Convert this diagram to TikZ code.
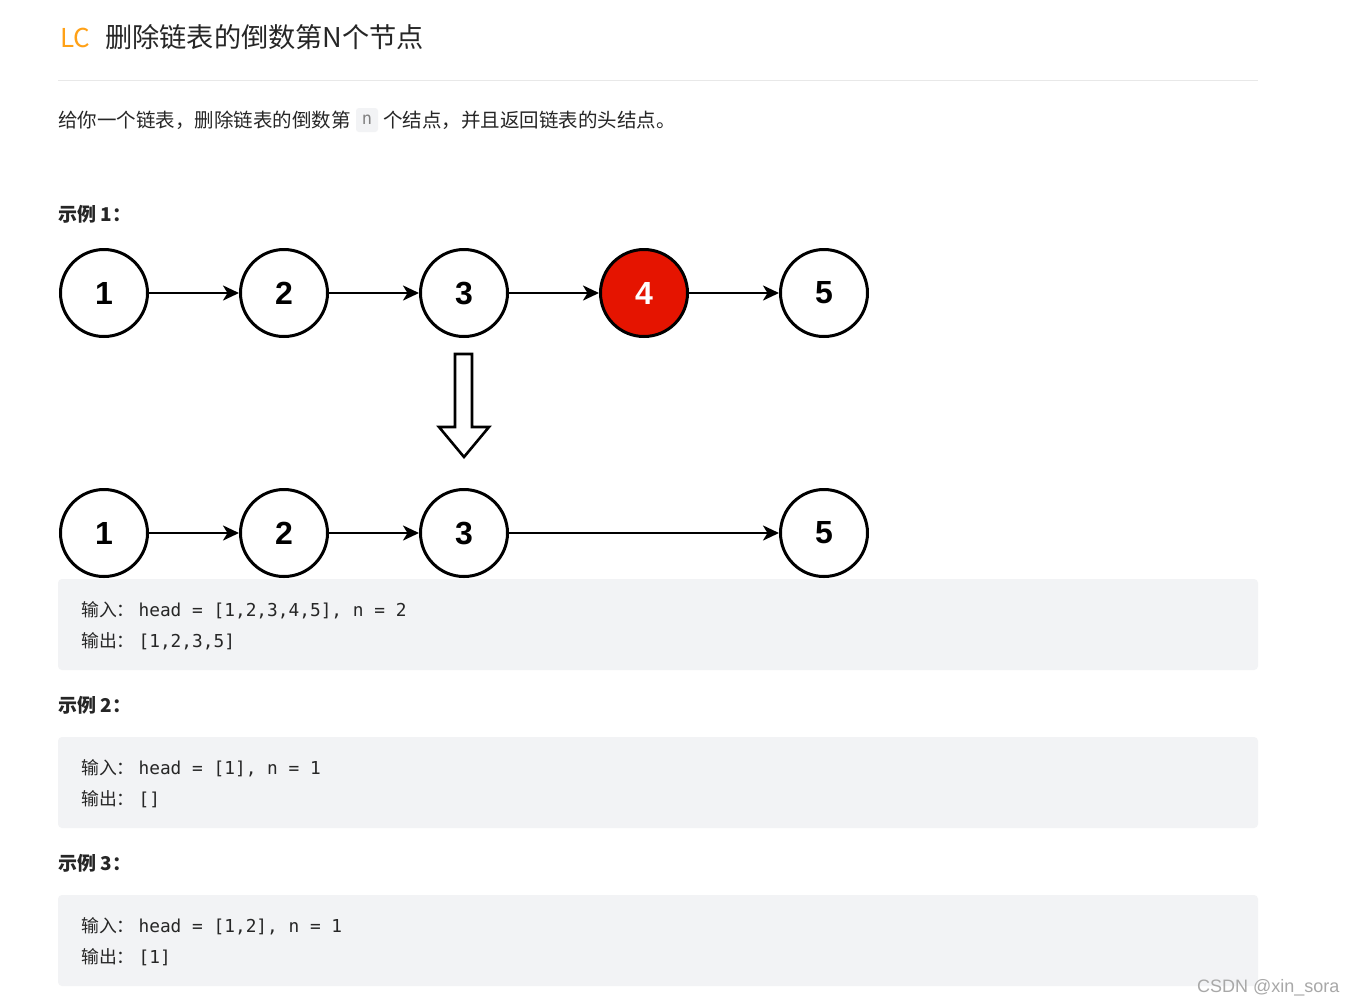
\documentclass[tikz,border=0pt]{standalone}
\usepackage{fontspec}
\setmainfont{Liberation Sans}
\newfontfamily\cjk{Noto Sans CJK SC}
\newfontfamily\monof{DejaVu Sans Mono}
\usetikzlibrary{arrows.meta}
\definecolor{lcorange}{HTML}{FFA116}
\definecolor{titlecol}{HTML}{262626}
\definecolor{codebg}{HTML}{F2F3F5}
\definecolor{nodered}{HTML}{E51400}
\definecolor{rulecol}{HTML}{E8E8E8}
\definecolor{wmark}{HTML}{A8A8A8}
\begin{document}
\begin{tikzpicture}[x=1pt,y=-1pt,
  llnode/.style={circle, draw=black, line width=3pt, minimum size=87pt, inner sep=0pt, font=\fontsize{32}{32}\selectfont\bfseries, fill=white},
  rednode/.style={llnode, fill=nodered, text=white},
  link/.style={line width=2.6pt, -{Stealth[length=16pt,width=15pt,inset=4.5pt]}},
  codeblock/.style={fill=codebg, draw=none, rounded corners=4pt},
  codeline/.style={anchor=base west, inner sep=0pt, text=titlecol, font=\fontsize{17.8}{18}\selectfont},
  heading/.style={anchor=base west, inner sep=0pt, text=titlecol, font=\cjk\bfseries\fontsize{19}{19}\selectfont},
  bodytxt/.style={anchor=base west, inner sep=0pt, text=titlecol, font=\cjk\fontsize{19.5}{20}\selectfont}
]
\useasboundingbox[fill=white] (0,0) rectangle (1355,1005);

% title
\node[anchor=base west, inner sep=0pt, text=lcorange, font=\cjk\fontsize{26}{26}\selectfont] (lc) at (60,47) {LC};
\node[anchor=base west, inner sep=0pt, text=titlecol, font=\cjk\fontsize{27.2}{28}\selectfont] (title) at (105,47) {删除链表的倒数第N个节点};
\draw[rulecol, line width=1pt] (58,80) -- (1258,80);

% description
\node[bodytxt] (d1) at (58,127.5) {给你一个链表，删除链表的倒数第};
\node[fill=codebg, rounded corners=3pt, minimum width=22pt, minimum height=24pt, inner sep=0pt, text=gray, font=\monof\fontsize{17}{17}\selectfont] (dn) at (367,120) {n};
\node[bodytxt] (d2) at (383,127.5) {个结点，并且返回链表的头结点。};

% example 1
\node[heading] (h1) at (58,221) {示例 1：};

\node[llnode] (a1) at (104,293) {1};
\node[llnode] (a2) at (284,293) {2};
\node[llnode] (a3) at (464,293) {3};
\node[rednode] (a4) at (644,293) {4};
\node[llnode] (a5) at (824,293) {5};
\draw[link] (a1) -- (a2);
\draw[link] (a2) -- (a3);
\draw[link] (a3) -- (a4);
\draw[link] (a4) -- (a5);

\draw[line width=2.6pt, line join=miter, fill=white] (455,354) -- (472,354) -- (472,427) -- (489,427) -- (464,457) -- (439,427) -- (455,427) -- cycle;

\node[llnode] (b1) at (104,533) {1};
\node[llnode] (b2) at (284,533) {2};
\node[llnode] (b3) at (464,533) {3};
\node[llnode] (b5) at (824,533) {5};
\draw[link] (b1) -- (b2);
\draw[link] (b2) -- (b3);
\draw[link] (b3) -- (b5);

\fill[codeblock] (58,579) rectangle (1258,670);
\node[codeline] (c1a) at (81,616) {{\cjk 输入：}\hspace{4pt}{\monof head = [1,2,3,4,5], n = 2}};
\node[codeline] (c1b) at (81,647) {{\cjk 输出：}\hspace{4pt}{\monof [1,2,3,5]}};

% example 2
\node[heading] (h2) at (58,712) {示例 2：};
\fill[codeblock] (58,737) rectangle (1258,828);
\node[codeline] (c2a) at (81,774) {{\cjk 输入：}\hspace{4pt}{\monof head = [1], n = 1}};
\node[codeline] (c2b) at (81,805) {{\cjk 输出：}\hspace{4pt}{\monof []}};

% example 3
\node[heading] (h3) at (58,870) {示例 3：};
\fill[codeblock] (58,895) rectangle (1258,986);
\node[codeline] (c3a) at (81,932) {{\cjk 输入：}\hspace{4pt}{\monof head = [1,2], n = 1}};
\node[codeline] (c3b) at (81,963) {{\cjk 输出：}\hspace{4pt}{\monof [1]}};

% watermark
\node[anchor=base west, inner sep=0pt, text=wmark, font=\fontsize{18}{18}\selectfont] (wm) at (1197,992.5) {CSDN @xin\_sora};
\end{tikzpicture}
\end{document}
